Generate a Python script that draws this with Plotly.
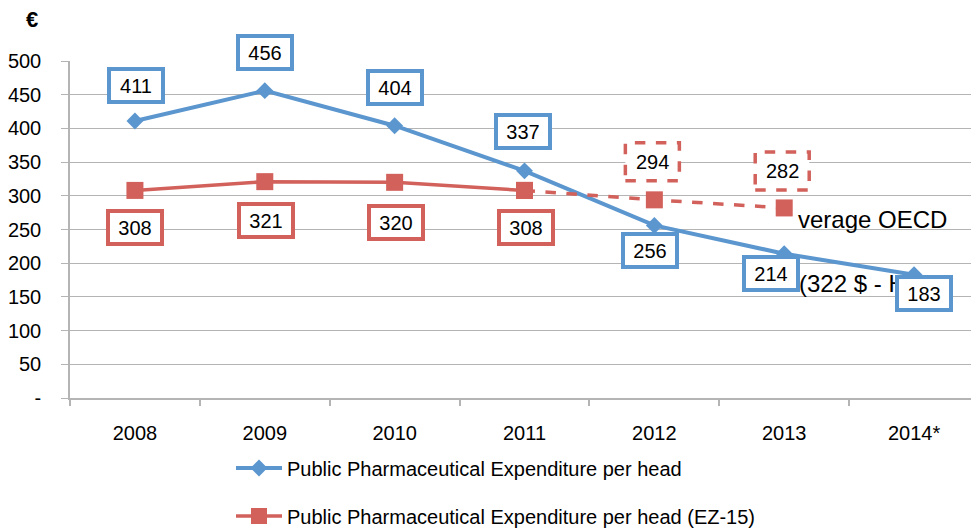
import plotly.graph_objects as go

years = ["2008", "2009", "2010", "2011", "2012", "2013", "2014*"]
ppe_head = [411, 456, 404, 337, 256, 214, 183]
ppe_ez15 = [308, 321, 320, 308, 294, 282]
ez15_solid_years = years[:4]
ez15_dash_years = years[3:6]
ytick_vals = [0, 50, 100, 150, 200, 250, 300, 350, 400, 450, 500]
ytick_text = ["-", "50", "100", "150", "200", "250", "300", "350", "400", "450", "500"]
name_blue = "Public Pharmaceutical Expenditure per head"
name_red = "Public Pharmaceutical Expenditure per head (EZ-15)"
oecd_line1 = "verage OECD"
oecd_line2 = "(322 $ - HU)"

# label offsets (pixels) for data labels: (xshift, yshift)
blue_off = [(1, 35), (0, 38), (0, 38), (-2, 39), (-4, -25), (-13, -20), (10, -19)]
red_off = [(0, -37), (1, -39), (1, -40), (1, -37), (-2, 38), (-2, 37)]

BLUE = "#5b96cf"
RED = "#d2615b"
GRID = "#b4b4b4"
FONT = "Liberation Sans, Arial, sans-serif"

# page has an 8px body margin; plot area spans page x 70..979, y 61..398
PX0, PW, PY1, PH = 70, 909, 398, 337


def px(x):
    return (x - PX0) / PW


def py(y):
    return (PY1 - y) / PH


fig = go.Figure()

fig.add_trace(go.Scatter(
    x=years, y=ppe_head, mode="lines+markers", name=name_blue,
    line=dict(color=BLUE, width=4),
    marker=dict(symbol="diamond", size=13, color=BLUE),
    legend="legend",
))
fig.add_trace(go.Scatter(
    x=ez15_dash_years, y=ppe_ez15[3:6], mode="lines+markers", name=name_red,
    line=dict(color=RED, width=3.5, dash="dash"),
    marker=dict(symbol="square", size=17, color=RED),
    showlegend=False,
))
fig.add_trace(go.Scatter(
    x=ez15_solid_years, y=ppe_ez15[:4], mode="lines+markers", name=name_red,
    line=dict(color=RED, width=3.5),
    marker=dict(symbol="square", size=17, color=RED),
    legend="legend2",
))

annotations = []
# OECD partially hidden text (drawn first so label boxes cover it)
annotations.append(dict(xref="paper", yref="paper", x=px(796), y=py(219),
                        text=oecd_line1, showarrow=False, xanchor="left", yanchor="middle",
                        font=dict(family=FONT, size=24, color="#000")))
annotations.append(dict(xref="paper", yref="paper", x=px(797), y=py(283),
                        text=oecd_line2, showarrow=False, xanchor="left", yanchor="middle",
                        font=dict(family=FONT, size=24, color="#000")))

shapes = []
for i, v in enumerate(ppe_head):
    dx, dy = blue_off[i]
    annotations.append(dict(x=i, y=v, text=str(v), showarrow=False, xshift=dx, yshift=dy,
                            bgcolor="white", bordercolor=BLUE, borderwidth=4, borderpad=1,
                            width=48, height=27,
                            font=dict(family=FONT, size=20, color="#000")))
for i, v in enumerate(ppe_ez15):
    dx, dy = red_off[i]
    if i < 4:
        annotations.append(dict(x=i, y=v, text=str(v), showarrow=False, xshift=dx, yshift=dy,
                                bgcolor="white", bordercolor=RED, borderwidth=4, borderpad=1,
                                width=48, height=27,
                                font=dict(family=FONT, size=20, color="#000")))
    else:
        shapes.append(dict(type="rect", xref="x", yref="y",
                           xsizemode="pixel", ysizemode="pixel",
                           xanchor=i, yanchor=v,
                           x0=dx - 27, x1=dx + 27, y0=dy - 19, y1=dy + 19,
                           line=dict(color=RED, width=3.5, dash="dash"),
                           fillcolor="white", layer="above"))
        annotations.append(dict(x=i, y=v, text=str(v), showarrow=False, xshift=dx, yshift=dy,
                                font=dict(family=FONT, size=20, color="#000")))

annotations.append(dict(xref="paper", yref="paper", x=px(32), y=py(20),
                        text="<b>€</b>", showarrow=False, xanchor="center", yanchor="middle",
                        font=dict(family=FONT, size=22, color="#000")))

fig.update_layout(
    width=971, height=522,
    margin=dict(l=62, r=0, t=53, b=132, autoexpand=False),
    plot_bgcolor="white", paper_bgcolor="white",
    font=dict(family=FONT, size=20, color="#000"),
    xaxis=dict(
        type="category", range=[-0.5, 6.5],
        showgrid=False, showline=True, linecolor=GRID, linewidth=1.5,
        ticks="outside", tickson="boundaries", ticklen=6, tickcolor=GRID, tickwidth=1.5,
        ticklabelstandoff=16,
        tickfont=dict(family=FONT, size=20),
    ),
    yaxis=dict(
        range=[0, 500], tickvals=ytick_vals, ticktext=ytick_text,
        showgrid=True, gridcolor=GRID, gridwidth=1.3,
        showline=True, linecolor=GRID, linewidth=1.5, zeroline=False,
        ticks="outside", ticklen=7, tickcolor=GRID, tickwidth=1.3,
        ticklabelstandoff=16,
        tickfont=dict(family=FONT, size=20),
    ),
    legend=dict(x=px(231), y=py(468), xanchor="left", yanchor="middle",
                bgcolor="rgba(0,0,0,0)", itemwidth=46,
                font=dict(family=FONT, size=20)),
    legend2=dict(x=px(231), y=py(516), xanchor="left", yanchor="middle",
                 bgcolor="rgba(0,0,0,0)", itemwidth=46,
                 font=dict(family=FONT, size=20)),
    annotations=annotations,
    shapes=shapes,
)

fig.write_html("out.html")
